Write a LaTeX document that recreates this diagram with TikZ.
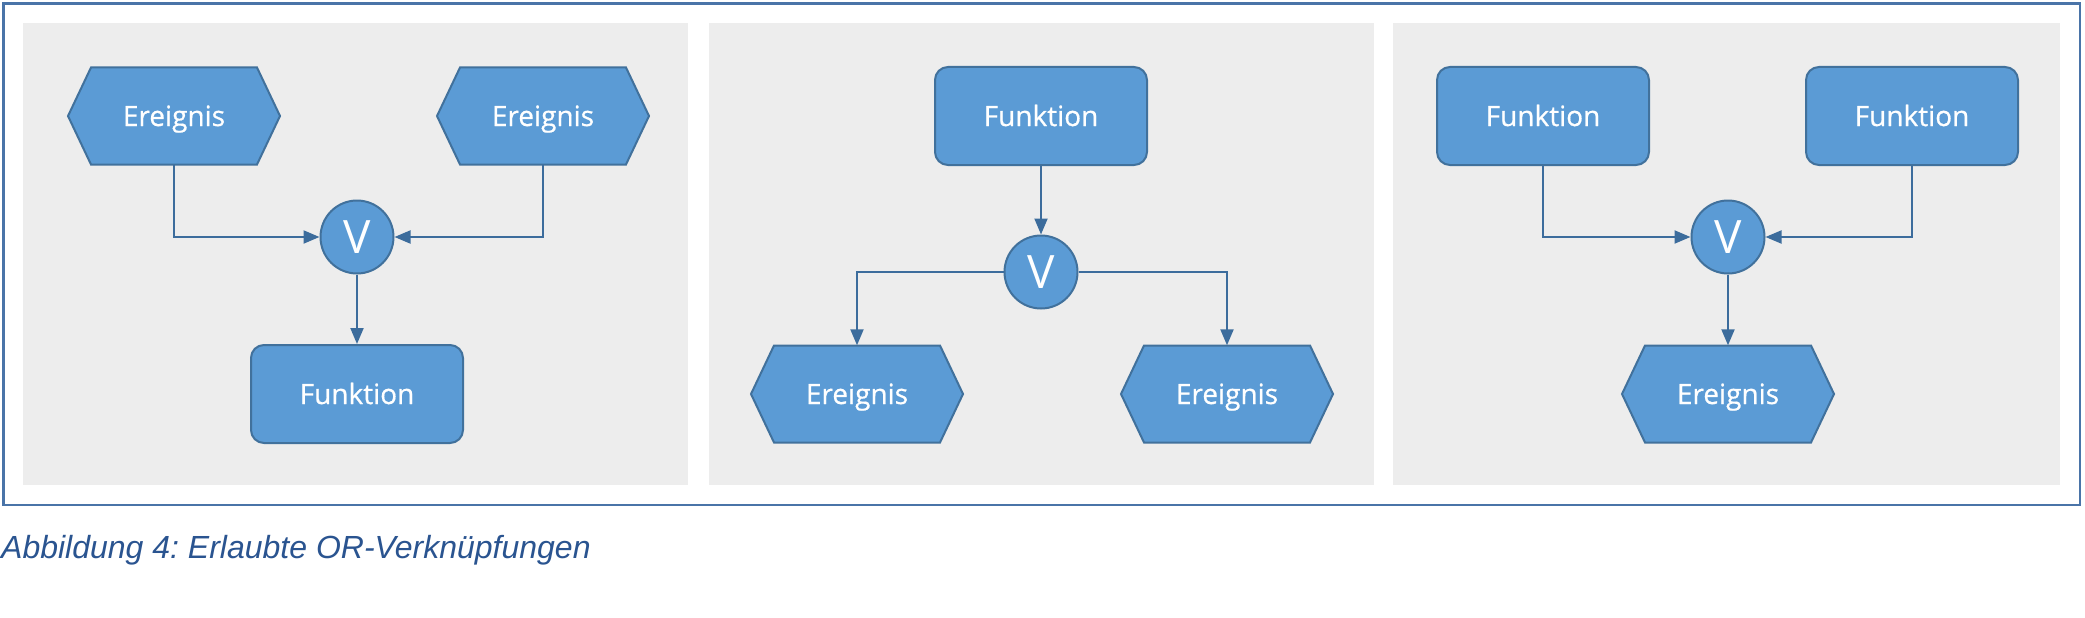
\documentclass[tikz,border=0pt]{standalone}
\usepackage{fontspec}
\setmainfont{Open Sans}
\newfontfamily\nodefont{Open Sans}[FakeBold=0.6]
\newfontfamily\capfont{Liberation Sans}
\usetikzlibrary{arrows.meta}
\frenchspacing
\definecolor{nfill}{HTML}{5B9BD5}
\definecolor{nborder}{HTML}{41719C}
\definecolor{nline}{HTML}{3C6C9C}
\definecolor{panelgray}{HTML}{EDEDED}
\definecolor{framecol}{HTML}{4A74A8}
\definecolor{capcol}{HTML}{2A5490}
\tikzset{
  funcbox/.style={draw=nborder, fill=nfill, line width=2pt, rounded corners=13pt,
    minimum width=212pt, minimum height=98pt, inner sep=0pt, text=white,
    text height=20pt, text depth=0pt,
    font=\nodefont\fontsize{28}{32}\selectfont},
  hexbox/.style={draw=none, minimum width=212pt, minimum height=97pt, inner sep=0pt,
    text=white, text height=20pt, text depth=0pt,
    font=\nodefont\fontsize{28}{32}\selectfont},
  hexshape/.style={draw=nborder, fill=nfill, line width=2pt, line join=miter},
  orgate/.style={circle, draw=nborder, fill=nfill, line width=2pt, minimum size=73pt,
    inner sep=0pt, text=white, text height=33pt, text depth=0pt,
    font=\fontsize{46}{50}\selectfont},
  conn/.style={draw=nline, line width=2pt, -{Triangle[length=16pt,width=13pt]}},
  panel/.style={fill=panelgray, draw=none},
}
\newcommand\hexnode[4]{%
  \path[hexshape] (#2-83,#3-48.5) -- (#2+83,#3-48.5) -- (#2+106,#3) -- (#2+83,#3+48.5)
    -- (#2-83,#3+48.5) -- (#2-106,#3) -- cycle;
  \node[hexbox] (#1) at (#2,#3) {#4};
}
\begin{document}
\begin{tikzpicture}[x=1pt,y=-1pt]
\useasboundingbox (0,0) rectangle (2085,618);
\fill[white] (0,0) rectangle (2085,618);
% outer frame
\draw[framecol, line width=2.5pt] (3.5,3.5) rectangle (2080,505);
% panels
\path[panel] (23,23) rectangle (688,485);
\path[panel] (709,23) rectangle (1374,485);
\path[panel] (1393,23) rectangle (2060,485);

% panel 1
\hexnode{e1}{174}{116}{Ereignis}
\hexnode{e2}{543}{116}{Ereignis}
\node[orgate] (v1) at (357,237) {V};
\node[funcbox] (f1) at (357,394) {Funktion};
\draw[conn] (e1.south) |- (v1.west);
\draw[conn] (e2.south) |- (v1.east);
\draw[conn] (v1.south) -- (f1.north);

% panel 2
\node[funcbox] (f2) at (1041,116) {Funktion};
\node[orgate] (v2) at (1041,272) {V};
\hexnode{e3}{857}{394}{Ereignis}
\hexnode{e4}{1227}{394}{Ereignis}
\draw[conn] (f2.south) -- (v2.north);
\draw[conn] (v2.west) -| (e3.north);
\draw[conn] (v2.east) -| (e4.north);

% panel 3
\node[funcbox] (f3) at (1543,116) {Funktion};
\node[funcbox] (f4) at (1912,116) {Funktion};
\node[orgate] (v3) at (1728,237) {V};
\hexnode{e5}{1728}{394}{Ereignis}
\draw[conn] (f3.south) |- (v3.west);
\draw[conn] (f4.south) |- (v3.east);
\draw[conn] (v3.south) -- (e5.north);

% caption
\node[anchor=base west, inner sep=0pt, text=capcol,
  font=\capfont\itshape\fontsize{32}{36}\selectfont] (cap) at (1,558)
  {Abbildung 4: Erlaubte OR-Verknüpfungen};
\end{tikzpicture}
\end{document}
